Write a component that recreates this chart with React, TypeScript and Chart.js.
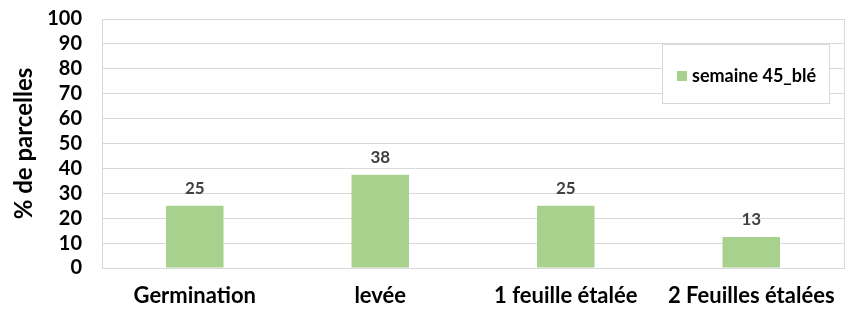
import React, { useEffect, useRef } from "react";
import { Chart, registerables } from "chart.js";

Chart.register(...registerables);

const categories = ["Germination", "levée", "1 feuille étalée", "2 Feuilles étalées"];
const seriesLabel = "semaine 45_blé";
const seriesValues = [25, 37.5, 25, 12.5];
const yTicks = [0, 10, 20, 30, 40, 50, 60, 70, 80, 90, 100];

const FONT = "Lato, 'Open Sans', sans-serif";
const BAR = "#a9d18e";
const GRID = "#d9d9d9";

const plotBorder = {
  id: "plotBorder",
  beforeDatasetsDraw(chart: any) {
    const { ctx, chartArea } = chart;
    ctx.save();
    ctx.strokeStyle = GRID;
    ctx.lineWidth = 1;
    ctx.beginPath();
    ctx.moveTo(Math.round(chartArea.left) + 0.5, chartArea.top);
    ctx.lineTo(Math.round(chartArea.left) + 0.5, chartArea.bottom);
    ctx.moveTo(Math.round(chartArea.right) + 0.5, chartArea.top);
    ctx.lineTo(Math.round(chartArea.right) + 0.5, chartArea.bottom);
    ctx.stroke();
    ctx.restore();
  },
};

const dataLabels = {
  id: "dataLabels",
  afterDatasetsDraw(chart: any) {
    const { ctx } = chart;
    const meta = chart.getDatasetMeta(0);
    const data = chart.data.datasets[0].data as number[];
    ctx.save();
    ctx.font = `bold 17px ${FONT}`;
    ctx.fillStyle = "#404040";
    ctx.textAlign = "center";
    ctx.textBaseline = "bottom";
    meta.data.forEach((el: any, i: number) => {
      ctx.fillText(String(Math.round(data[i])), el.x, el.y - 9);
    });
    ctx.restore();
  },
};

const boxLegend = {
  id: "boxLegend",
  afterDraw(chart: any) {
    const { ctx, chartArea } = chart;
    const label = chart.data.datasets[0].label;
    const x = chartArea.right - 182;
    const y = chartArea.top + 25;
    const w = 167;
    const h = 59;
    ctx.save();
    ctx.fillStyle = "#ffffff";
    ctx.fillRect(x, y, w, h);
    ctx.strokeStyle = GRID;
    ctx.lineWidth = 1;
    ctx.strokeRect(Math.round(x) + 0.5, Math.round(y) + 0.5, w, h);
    ctx.fillStyle = BAR;
    ctx.fillRect(x + 15, y + 27, 10, 10);
    ctx.fillStyle = "#000000";
    ctx.font = `bold 18px ${FONT}`;
    ctx.textAlign = "left";
    ctx.textBaseline = "middle";
    ctx.fillText(label, x + 30, y + 32);
    ctx.restore();
  },
};

export default function App() {
  const ref = useRef<HTMLCanvasElement>(null);
  useEffect(() => {
    if (!ref.current) return;
    const chart = new Chart(ref.current, {
      type: "bar",
      data: {
        labels: categories,
        datasets: [
          {
            label: seriesLabel,
            data: seriesValues,
            backgroundColor: BAR,
            categoryPercentage: 1,
            barPercentage: 0.31,
          },
        ],
      },
      options: {
        animation: false,
        responsive: false,
        maintainAspectRatio: false,
        layout: { padding: { top: 19, right: 7, left: 0, bottom: 0 } },
        plugins: { legend: { display: false }, tooltip: { enabled: false } },
        scales: {
          x: {
            grid: { display: false },
            border: { display: true, color: GRID },
            ticks: {
              color: "#000000",
              font: { family: FONT, size: 22, weight: "bold" },
              maxRotation: 0,
              autoSkip: false,
              padding: 7,
            },
            afterFit(scale: any) {
              scale.height = 41;
              scale.paddingTop = 0;
              scale.paddingBottom = 0;
              scale.paddingLeft = 0;
              scale.paddingRight = 0;
            },
          },
          y: {
            min: 0,
            max: 100,
            afterBuildTicks(scale: any) {
              scale.ticks = yTicks.map((v) => ({ value: v }));
            },
            grid: { color: GRID, drawTicks: false },
            border: { display: false },
            ticks: {
              color: "#000000",
              font: { family: FONT, size: 20, weight: "bold", lineHeight: 1 },
              padding: 20,
              autoSkip: false,
            },
            title: {
              display: true,
              text: "% de parcelles",
              color: "#000000",
              font: { family: FONT, size: 24, weight: "bold" },
              padding: { top: 10, bottom: 0 },
            },
            afterFit(scale: any) {
              scale.width = 102;
              scale.paddingTop = 0;
              scale.paddingBottom = 0;
            },
          },
        },
      },
      plugins: [plotBorder, dataLabels, boxLegend],
    });
    return () => chart.destroy();
  }, []);
  return (
    <div style={{ position: "fixed", left: 0, top: 0, width: 851, height: 309, background: "#fff" }}>
      <canvas ref={ref} width={851} height={309} />
    </div>
  );
}
